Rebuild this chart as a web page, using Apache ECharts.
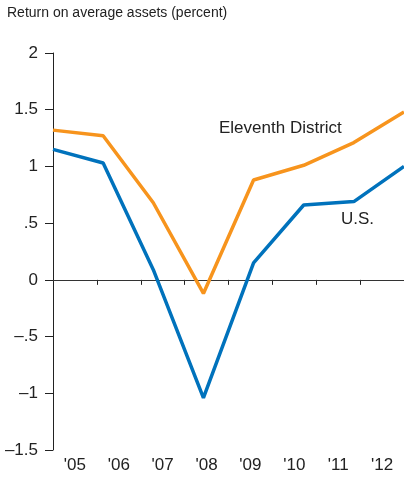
<!DOCTYPE html>
<html><head><meta charset="utf-8">
<script src="https://cdn.jsdelivr.net/npm/echarts@6/dist/echarts.min.js"></script>
<style>html,body{margin:0;padding:0;background:#fff}#c{width:404px;height:478px}</style>
</head><body><div id="c"></div>
<script>
var categories = ["'05","'06","'07","'08","'09","'10","'11","'12"];
var eleventhDistrict = [1.32, 1.27, 0.68, -0.12, 0.88, 1.01, 1.21, 1.48];
var us = [1.15, 1.03, 0.09, -1.04, 0.15, 0.66, 0.69, 1.00];
var yTicks = {"2":"2","1.5":"1.5","1":"1","0.5":".5","0":"0","-0.5":"\u2013.5","-1":"\u20131","-1.5":"\u20131.5"};
var FONT = "'Liberation Sans Narrow','Arial Narrow','Liberation Sans',sans-serif";
var chart = echarts.init(document.getElementById('c'));
chart.setOption({
  animation:false,
  grid:{left:53,right:0,top:53,bottom:28},
  title:{text:'Return on average assets (percent)',left:2,top:1,textStyle:{fontFamily:FONT,fontSize:14,fontWeight:'normal',color:'#222'}},
  xAxis:[{
    type:'category',data:categories,boundaryGap:true,
    axisLine:{lineStyle:{color:'#222',width:1}},
    axisTick:{show:true,inside:false,length:5,alignWithLabel:false,lineStyle:{color:'#222'}},
    axisLabel:{fontFamily:FONT,fontSize:17,color:'#222',margin:7}
  },{
    type:'category',data:categories,boundaryGap:false,show:false
  }],
  yAxis:{
    type:'value',min:-1.5,max:2,interval:0.5,
    axisLine:{show:true,lineStyle:{color:'#222',width:1}},
    axisTick:{show:true,length:8,lineStyle:{color:'#222'}},
    splitLine:{show:false},
    axisLabel:{fontFamily:FONT,fontSize:17,color:'#222',margin:15,formatter:function(v){var k=String(Math.round(v*10)/10);return yTicks[k]!==undefined?yTicks[k]:k;}}
  },
  series:[{
    type:'line',xAxisIndex:1,data:eleventhDistrict,symbol:'none',
    lineStyle:{color:'#F7941D',width:3.5},z:3,
    markLine:{silent:true,symbol:'none',label:{show:false},lineStyle:{color:'#333',width:1,type:'solid'},data:[{yAxis:0}],z:1}
  },{
    type:'line',xAxisIndex:1,data:us,symbol:'none',
    lineStyle:{color:'#0072BC',width:3.5},z:4
  }],
  graphic:[
    {type:'text',left:219,top:120,style:{text:'Eleventh District',fontFamily:FONT,fontSize:17,fill:'#222'}},
    {type:'text',left:341,top:211,style:{text:'U.S.',fontFamily:FONT,fontSize:17,fill:'#222'}}
  ]
});
</script></body></html>
